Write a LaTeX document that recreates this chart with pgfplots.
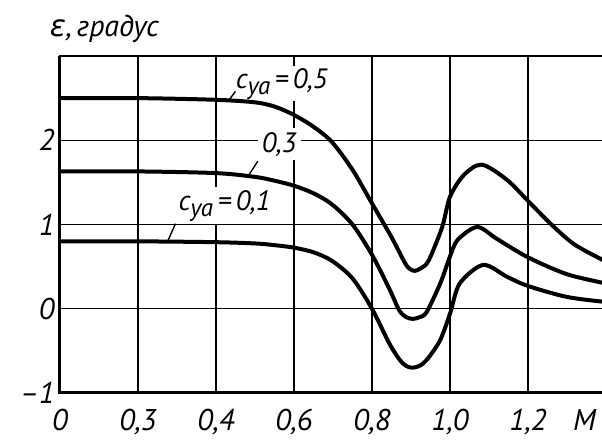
\documentclass[border=0pt]{standalone}
\usepackage{fontspec}
\setmainfont{PT Sans}
\newfontfamily\greekfont{DejaVu Sans}
\usepackage{pgfplots}
\pgfplotsset{compat=1.18}

\pgfplotstableread{
M eps
0 2.50
0.2 2.50
0.4 2.48
0.5 2.45
0.55 2.40
0.6 2.30
0.65 2.16
0.697 1.98
0.75 1.65
0.8 1.25
0.85 0.85
0.885 0.54
0.898 0.47
0.91 0.45
0.925 0.48
0.945 0.57
0.98 0.97
1.0 1.33
1.036 1.59
1.082 1.71
1.146 1.53
1.2 1.28
1.26 1.00
1.32 0.76
1.4 0.56
}\cyafive

\pgfplotstableread{
M eps
0 1.63
0.2 1.63
0.4 1.61
0.5 1.565
0.55 1.52
0.6 1.46
0.65 1.37
0.697 1.24
0.75 1.00
0.8 0.64
0.843 0.25
0.87 -0.02
0.888 -0.10
0.905 -0.12
0.922 -0.10
0.94 -0.04
0.975 0.30
1.0 0.62
1.02 0.82
1.07 0.97
1.12 0.83
1.2 0.61
1.3 0.41
1.4 0.30
}\cyathree

\pgfplotstableread{
M eps
0 0.80
0.2 0.80
0.4 0.79
0.5 0.775
0.55 0.755
0.6 0.725
0.65 0.67
0.697 0.57
0.75 0.36
0.8 0.00
0.843 -0.40
0.87 -0.60
0.888 -0.68
0.905 -0.70
0.925 -0.67
0.945 -0.58
0.975 -0.37
1.0 -0.06
1.025 0.30
1.085 0.52
1.146 0.38
1.2 0.27
1.3 0.14
1.4 0.08
}\cyaone

\begin{document}
\begin{tikzpicture}
\useasboundingbox (-60pt,-53pt) rectangle (542pt,393pt);
\begin{axis}[
  at={(0,0)}, anchor=south west,
  scale only axis, width=546pt, height=337pt,
  xmin=0, xmax=1.4, ymin=-1, ymax=3,
  xtick={0,0.2,0.4,0.6,0.8,1.0,1.2},
  xticklabels={0,{0,3},{0,4},{0,6},{0,8},{1,0},{1,2}},
  extra x ticks={1.345},
  extra x tick labels={M},
  extra x tick style={grid=none},
  ytick={-1,0,1,2},
  yticklabels={\textendash1,0,1,2},
  grid=major,
  grid style={black, line width=1.2pt},
  major tick length=0pt,
  axis line style={black, line width=1.3pt},
  ticklabel style={font=\fontsize{30}{30}\selectfont\itshape},
  xticklabel style={yshift=-13pt},
  yticklabel style={xshift=-2pt},
  clip=false,
]
\node[anchor=base west, font=\fontsize{30}{30}\selectfont\itshape]
  at (axis cs:-0.035,3.23) {{\greekfont\itshape ε},\,градус};
\node[anchor=base west, fill=white, inner sep=2pt, font=\fontsize{28}{28}\selectfont\itshape]
  at (axis cs:0.445,2.62) {c\raisebox{-6pt}{\fontsize{25}{25}\selectfont ya}\,=\,0,5};
\node[anchor=base west, fill=white, inner sep=4pt, font=\fontsize{28}{28}\selectfont\itshape]
  at (axis cs:0.507,1.86) {0,3};
\node[anchor=base west, fill=white, inner sep=3pt, font=\fontsize{28}{28}\selectfont\itshape]
  at (axis cs:0.296,1.17) {c\raisebox{-6pt}{\fontsize{25}{25}\selectfont ya}\,=\,0,1};

\addplot[black, line width=4pt, smooth] table[x=M, y=eps] {\cyafive};
\addplot[black, line width=4pt, smooth] table[x=M, y=eps] {\cyathree};
\addplot[black, line width=4pt, smooth] table[x=M, y=eps] {\cyaone};

\draw[black, line width=1.4pt] (axis cs:0.450,2.58) -- (axis cs:0.432,2.47);
\draw[black, line width=1.4pt] (axis cs:0.507,1.75) -- (axis cs:0.486,1.60);
\draw[black, line width=1.4pt] (axis cs:0.296,1.01) -- (axis cs:0.276,0.80);

\draw[black, line width=3pt] (rel axis cs:0,1) -- (rel axis cs:0,0) -- (rel axis cs:1,0);
\end{axis}
\end{tikzpicture}
\end{document}
